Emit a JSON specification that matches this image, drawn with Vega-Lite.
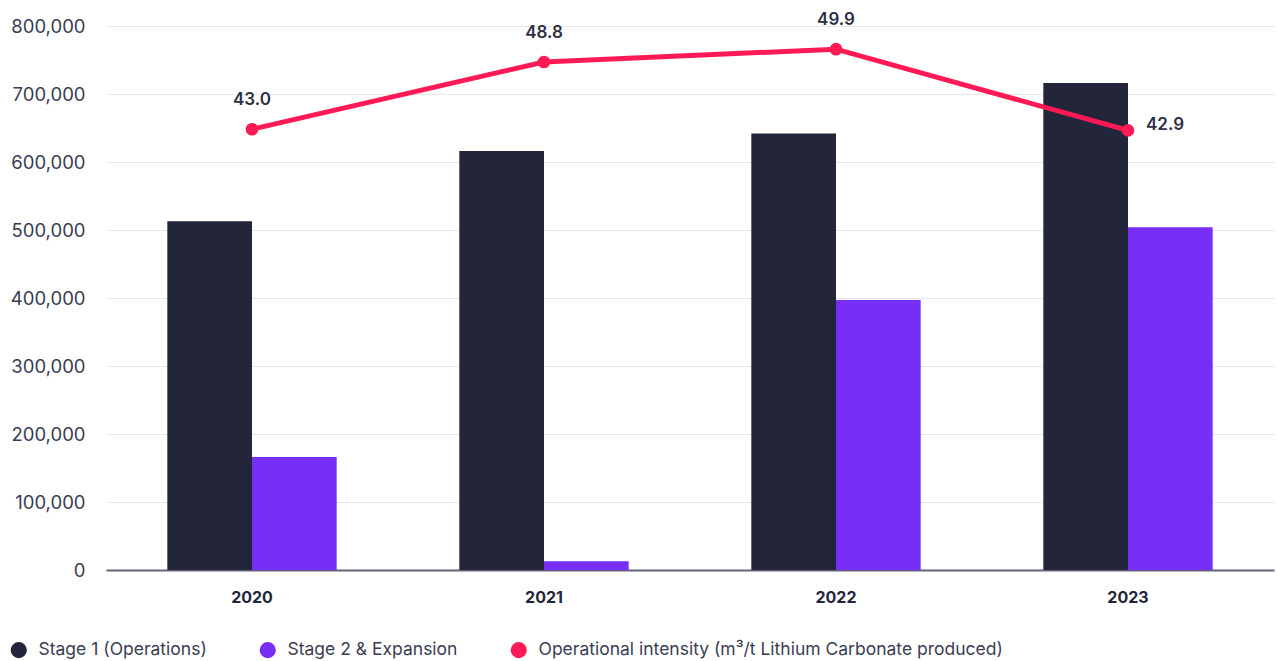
{
  "$schema": "https://vega.github.io/schema/vega-lite/v6.json",
  "autosize": {"type": "none"},
  "padding": {"left": 106, "top": 26, "right": 3, "bottom": 91},
  "width": 1168,
  "height": 544,
  "background": "#ffffff",
  "config": {"view": {"stroke": null}, "font": "Inter"},
  "datasets": {
    "bars": [
      {"year": "2020", "series": "Stage 1 (Operations)", "value": 513000},
      {"year": "2020", "series": "Stage 2 & Expansion", "value": 166000},
      {"year": "2021", "series": "Stage 1 (Operations)", "value": 616000},
      {"year": "2021", "series": "Stage 2 & Expansion", "value": 13000},
      {"year": "2022", "series": "Stage 1 (Operations)", "value": 642000},
      {"year": "2022", "series": "Stage 2 & Expansion", "value": 397000},
      {"year": "2023", "series": "Stage 1 (Operations)", "value": 716000},
      {"year": "2023", "series": "Stage 2 & Expansion", "value": 504000}
    ],
    "intensity": [
      {"year": "2020", "intensity": 43.0},
      {"year": "2021", "intensity": 48.8},
      {"year": "2022", "intensity": 49.9},
      {"year": "2023", "intensity": 42.9}
    ]
  },
  "layer": [
    {
      "data": {"name": "bars"},
      "mark": {"type": "bar"},
      "encoding": {
        "x": {
          "field": "year", "type": "nominal", "title": null,
          "scale": {"paddingInner": 0.42, "paddingOuter": 0.21},
          "axis": {
            "labelAngle": 0, "labelFont": "Inter", "labelFontSize": 16, "labelFontWeight": "bold",
            "labelColor": "#23263a", "labelPadding": 19, "ticks": false,
            "domainColor": "#62657a", "domainWidth": 2, "grid": false
          }
        },
        "xOffset": {"field": "series", "type": "nominal", "sort": ["Stage 1 (Operations)", "Stage 2 & Expansion"]},
        "y": {
          "field": "value", "type": "quantitative", "title": null,
          "scale": {"domain": [0, 800000]},
          "axis": {
            "values": [0, 100000, 200000, 300000, 400000, 500000, 600000, 700000, 800000],
            "format": ",d", "labelFont": "Inter", "labelFontSize": 18.5, "labelColor": "#3a3d52",
            "labelPadding": 21, "ticks": false, "domain": false,
            "gridColor": "#e8e8ea", "gridWidth": 1
          }
        },
        "color": {
          "field": "series", "type": "nominal",
          "scale": {
            "domain": ["Stage 1 (Operations)", "Stage 2 & Expansion", "Operational intensity (m³/t Lithium Carbonate produced)"],
            "range": ["#23263a", "#772ef7", "#ff1a55"]
          },
          "legend": {
            "title": null, "orient": "none", "direction": "horizontal",
            "legendX": -96, "legendY": 615,
            "symbolType": "circle", "symbolSize": 260, "symbolStrokeWidth": 0,
            "labelFont": "Inter", "labelFontSize": 17.5, "labelColor": "#3a3d52",
            "labelOffset": 11, "columnPadding": 52, "labelLimit": 600
          }
        }
      }
    },
    {
      "data": {"name": "intensity"},
      "mark": {"type": "line", "color": "#ff1a55", "strokeWidth": 5, "point": {"filled": true, "size": 160, "color": "#ff1a55"}},
      "encoding": {
        "x": {"field": "year", "type": "nominal"},
        "y": {"field": "intensity", "type": "quantitative", "scale": {"domain": [5, 51.9]}, "axis": null}
      }
    },
    {
      "data": {"name": "intensity"},
      "transform": [{"filter": "datum.year != '2023'"}],
      "mark": {"type": "text", "dy": -29, "font": "Inter", "fontSize": 17, "fontWeight": 600, "color": "#2e3045"},
      "encoding": {
        "x": {"field": "year", "type": "nominal"},
        "y": {"field": "intensity", "type": "quantitative", "scale": {"domain": [5, 51.9]}, "axis": null},
        "text": {"field": "intensity", "type": "quantitative", "format": ".1f"}
      }
    },
    {
      "data": {"name": "intensity"},
      "transform": [{"filter": "datum.year == '2023'"}],
      "mark": {"type": "text", "align": "left", "dx": 18, "dy": -5, "font": "Inter", "fontSize": 17, "fontWeight": 600, "color": "#2e3045"},
      "encoding": {
        "x": {"field": "year", "type": "nominal"},
        "y": {"field": "intensity", "type": "quantitative", "scale": {"domain": [5, 51.9]}, "axis": null},
        "text": {"field": "intensity", "type": "quantitative", "format": ".1f"}
      }
    }
  ],
  "resolve": {"scale": {"y": "independent"}}
}
